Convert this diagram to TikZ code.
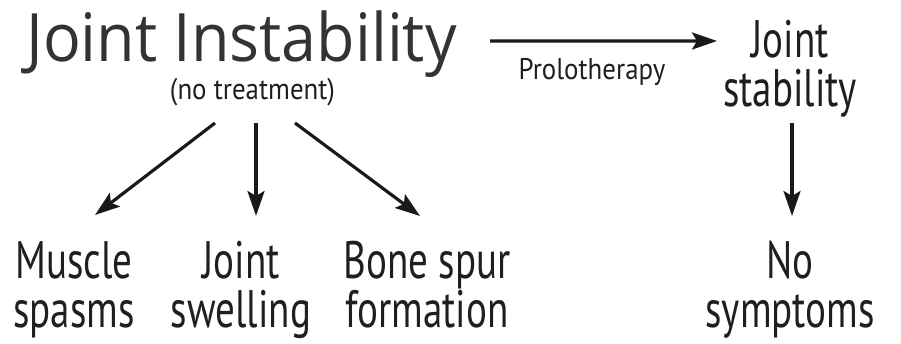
\documentclass[tikz,border=0pt]{standalone}
\usepackage{fontspec}
\setmainfont{PT Sans}
\newfontfamily\titlefont{Open Sans}[FakeStretch=0.94]
\newfontfamily\notefont{PT Sans}[FakeStretch=0.9]
\newfontfamily\labelfont{PT Sans}[FakeStretch=0.74]
\usetikzlibrary{arrows.meta}
\tikzset{
  heading/.style={anchor=base, inner sep=0pt, text=black!80, font=\titlefont\fontsize{38}{38}\selectfont},
  note/.style={anchor=base, inner sep=0pt, text=black!88, font=\notefont\fontsize{17}{17}\selectfont},
  outcome/.style={anchor=base, inner sep=0pt, text=black!88, align=center, font=\labelfont\fontsize{30}{28}\selectfont},
  pointer/.style={line width=1.8pt, draw=black!90, -{Stealth[length=0.5cm, width=0.34cm, inset=0.1cm]}},
}

\begin{document}
\begin{tikzpicture}
\useasboundingbox (0,0) rectangle (18.02,6.88);
\node[heading] (instab) at (4.83,5.64) {Joint Instability};
\node[note] (notreat) at (5.05,4.88) {(no treatment)};
\node[note] (prolo) at (11.84,5.28) {Prolotherapy};
\node[outcome] (stab) at (15.80,4.74) {Joint\\stability};
\node[outcome] (muscle) at (1.48,0.32) {Muscle\\spasms};
\node[outcome] (swell) at (4.82,0.32) {Joint\\swelling};
\node[outcome] (bone) at (8.54,0.32) {Bone spur\\formation};
\node[outcome] (nosym) at (15.80,0.32) {No\\symptoms};
\draw[pointer] ([shift={(4.97,0.42)}]instab.base) -- ([shift={(-1.46,1.32)}]stab.base);
\draw[pointer] ([shift={(-0.75,-0.46)}]notreat.base) -- ([shift={(0.42,2.26)}]muscle.base);
\draw[pointer] ([shift={(0.07,-0.46)}]notreat.base) -- ([shift={(0.30,2.24)}]swell.base);
\draw[pointer] ([shift={(0.85,-0.46)}]notreat.base) -- ([shift={(-0.14,2.24)}]bone.base);
\draw[pointer] ([shift={(0.04,-0.32)}]stab.base) -- ([shift={(0.04,2.24)}]nosym.base);
\end{tikzpicture}
\end{document}
